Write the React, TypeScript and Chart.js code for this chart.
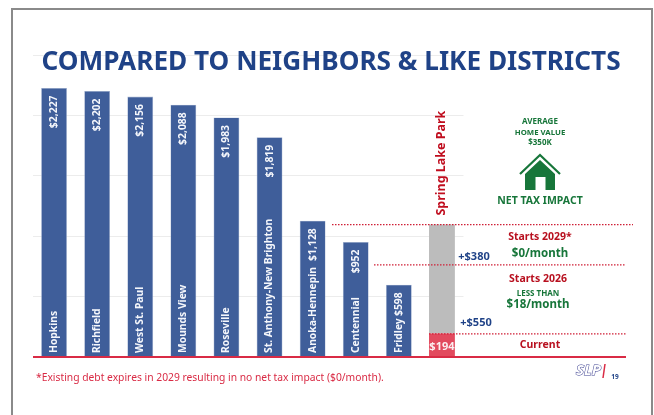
import React, { useEffect, useRef } from "react";
import { Chart, registerables } from "chart.js";

Chart.register(...registerables);

const districts = ["Hopkins", "Richfield", "West St. Paul", "Mounds View", "Roseville", "St. Anthony-New Brighton", "Anoka-Hennepin", "Centennial", "Fridley", "Spring Lake Park"];
const neighborValues = [2227, 2202, 2156, 2088, 1983, 1819, 1128, 952, 598, null];
const currentValues = [null, null, null, null, null, null, null, null, null, 194];
const increaseValues = [null, null, null, null, null, null, null, null, null, 902];
const dottedLevels = [1096, 762, 191];
const yTicks = { max: 2500, step: 500 };

const FONT = '"Noto Sans", sans-serif';
const NAVY = "#1f4287";
const BAR = "#3f5e9a";
const GREEN = "#17763a";
const DARKRED = "#b8101f";
const RED = "#d92b45";

function money(v: number) {
  return "$" + v.toLocaleString("en-US");
}

function text(ctx: CanvasRenderingContext2D, s: string, x: number, y: number, size: number, color: string, weight = "bold", align: CanvasTextAlign = "center", spacing = "0px") {
  ctx.font = `${weight} ${size}px ${FONT}`;
  ctx.fillStyle = color;
  ctx.textAlign = align;
  ctx.textBaseline = "middle";
  (ctx as any).letterSpacing = spacing;
  ctx.fillText(s, x, y);
  (ctx as any).letterSpacing = "0px";
}

function vtext(ctx: CanvasRenderingContext2D, s: string, x: number, y: number, size: number, color: string, align: CanvasTextAlign) {
  ctx.save();
  ctx.translate(x, y);
  ctx.rotate(-Math.PI / 2);
  text(ctx, s, 0, 0, size, color, "bold", align);
  ctx.restore();
}

const slidePlugin = {
  id: "slide",
  afterDatasetsDraw(chart: any) {
    const ctx: CanvasRenderingContext2D = chart.ctx;
    const yScale = chart.scales.y;
    const base = yScale.getPixelForValue(0);
    const meta = chart.getDatasetMeta(0);
    ctx.save();

    // slide frame
    ctx.strokeStyle = "#8a8a8a";
    ctx.lineWidth = 2;
    ctx.beginPath();
    ctx.moveTo(12, 415);
    ctx.lineTo(12, 9);
    ctx.lineTo(652, 9);
    ctx.lineTo(652, 415);
    ctx.stroke();

    // title
    text(ctx, "COMPARED TO NEIGHBORS & LIKE DISTRICTS", 331, 63, 26.2, NAVY);

    // bar labels
    neighborValues.forEach((v, i) => {
      if (v == null) return;
      const el = meta.data[i];
      vtext(ctx, money(v), el.x, el.y + 7.5, 10.4, "#f4f6fb", "right");
      vtext(ctx, districts[i], el.x, base - 4, 10.3, "#f4f6fb", "left");
    });

    const slpX = meta.data[9].x;
    vtext(ctx, districts[9], slpX - 1, chart.getDatasetMeta(2).data[9].y - 9, 12.5, "#c00d1e", "left");
    text(ctx, money(currentValues[9] as number), slpX, 347, 11, "#fbeef0");

    // dotted levels
    const spans = [[332, 633], [374, 626], [429, 626]];
    ctx.strokeStyle = "#cf1f36";
    ctx.lineWidth = 1.2;
    ctx.setLineDash([1.5, 1.5]);
    dottedLevels.forEach((lv, i) => {
      const y = yScale.getPixelForValue(lv);
      ctx.beginPath();
      ctx.moveTo(spans[i][0], y);
      ctx.lineTo(spans[i][1], y);
      ctx.stroke();
    });
    ctx.setLineDash([]);

    // baseline
    ctx.strokeStyle = RED;
    ctx.lineWidth = 2;
    ctx.beginPath();
    ctx.moveTo(33, base);
    ctx.lineTo(626, base);
    ctx.stroke();

    // right panel
    text(ctx, "AVERAGE", 540, 122, 8, GREEN);
    text(ctx, "HOME VALUE", 540, 133, 7.8, GREEN);
    text(ctx, "$350K", 540, 143, 8, GREEN);

    ctx.fillStyle = GREEN;
    ctx.strokeStyle = GREEN;
    ctx.lineWidth = 2.2;
    ctx.beginPath();
    ctx.moveTo(520, 174);
    ctx.lineTo(540, 155);
    ctx.lineTo(560, 174);
    ctx.stroke();
    ctx.beginPath();
    ctx.moveTo(540, 160);
    ctx.lineTo(555, 174);
    ctx.lineTo(555, 190);
    ctx.lineTo(545.5, 190);
    ctx.lineTo(545.5, 177);
    ctx.lineTo(535.5, 177);
    ctx.lineTo(535.5, 190);
    ctx.lineTo(525, 190);
    ctx.lineTo(525, 174);
    ctx.closePath();
    ctx.fill();

    text(ctx, "NET TAX IMPACT", 540, 201, 10.5, GREEN);
    text(ctx, "Starts 2029*", 540, 237, 10.5, DARKRED);
    text(ctx, "$0/month", 540, 254, 11.5, GREEN);
    text(ctx, "Starts 2026", 538, 279, 10.5, DARKRED);
    text(ctx, "LESS THAN", 538, 294, 8, GREEN);
    text(ctx, "$18/month", 538, 305, 11.5, GREEN);
    text(ctx, "Current", 540, 345, 10.5, DARKRED);
    text(ctx, "+$380", 474, 257, 11, NAVY);
    text(ctx, "+$550", 476, 323, 11, NAVY);

    // footnote
    text(ctx, "*Existing debt expires in 2029 resulting in no net tax impact ($0/month).", 36, 378, 10.3, RED, "normal", "left");

    // logo + page number
    ctx.font = `italic bold 15px ${FONT}`;
    ctx.textAlign = "left";
    ctx.textBaseline = "middle";
    ctx.strokeStyle = "#3b3f8f";
    ctx.lineWidth = 1;
    ctx.fillStyle = "#ffffff";
    ctx.strokeText("SLP", 576, 371);
    ctx.fillText("SLP", 576, 371);
    ctx.strokeStyle = RED;
    ctx.lineWidth = 1.5;
    ctx.beginPath();
    ctx.moveTo(605, 364);
    ctx.lineTo(603, 378);
    ctx.stroke();
    text(ctx, "19", 615, 377, 6.5, NAVY);

    ctx.restore();
  },
};

export default function App() {
  const ref = useRef<HTMLCanvasElement>(null);
  useEffect(() => {
    const chart = new Chart(ref.current as HTMLCanvasElement, {
      type: "bar",
      data: {
        labels: districts,
        datasets: [
          { label: "Neighbors", data: neighborValues, backgroundColor: BAR, borderColor: "#a9b7d3", borderWidth: 0.6 },
          { label: "Current", data: currentValues, backgroundColor: "#e24a5e" },
          { label: "Increase", data: increaseValues, backgroundColor: "#bcbcbc" },
        ],
      } as any,
      options: {
        responsive: false,
        animation: false,
        layout: { padding: { left: 32.5, right: 190.5, top: 55, bottom: 58 } },
        plugins: { legend: { display: false }, tooltip: { enabled: false }, title: { display: false } },
        datasets: { bar: { categoryPercentage: 1, barPercentage: 0.6 } },
        scales: {
          x: { display: false, stacked: true, grid: { display: false } },
          y: {
            stacked: true,
            min: 0,
            max: yTicks.max,
            ticks: { display: false, stepSize: yTicks.step },
            grid: { color: "#ececec", lineWidth: 1, drawTicks: false },
            border: { display: false },
          },
        },
      } as any,
      plugins: [slidePlugin],
    });
    return () => chart.destroy();
  }, []);
  return (
    <div style={{ position: "fixed", left: 0, top: 0, width: 654, height: 415, background: "#fff" }}>
      <canvas ref={ref} width={654} height={415} style={{ display: "block", filter: "blur(0.35px)" }} />
    </div>
  );
}
